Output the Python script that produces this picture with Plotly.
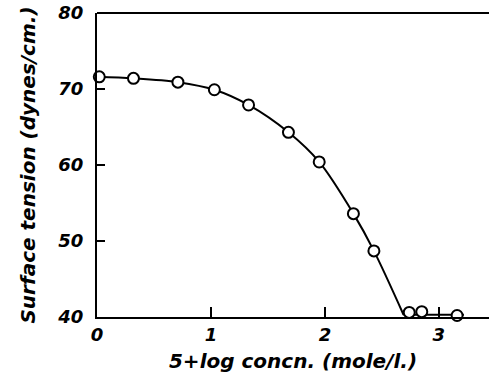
import plotly.graph_objects as go

log_conc = [0.02, 0.32, 0.71, 1.03, 1.33, 1.68, 1.95, 2.25, 2.43, 2.74, 2.85, 3.16]
tension = [71.6, 71.4, 70.9, 69.9, 67.9, 64.3, 60.4, 53.6, 48.7, 40.6, 40.7, 40.2]

curve_x = [0.0, 0.32, 0.71, 1.03, 1.33, 1.68, 1.95, 2.25, 2.43, 2.69]
curve_y = [71.6, 71.4, 70.9, 69.9, 67.9, 64.3, 60.4, 53.6, 48.7, 40.3]
flat_x = [2.69, 3.22]
flat_y = [40.3, 40.3]

x_ticks = [0, 1, 2, 3]
x_tick_text = ["0", "1", "2", "3"]
y_ticks = [40, 50, 60, 70, 80]

font_family = "DejaVu Sans"

fig = go.Figure()
fig.add_trace(go.Scatter(x=curve_x, y=curve_y, mode="lines",
                         line=dict(color="black", width=2, shape="spline", smoothing=0.9),
                         hoverinfo="skip", showlegend=False, cliponaxis=False))
fig.add_trace(go.Scatter(x=flat_x, y=flat_y, mode="lines",
                         line=dict(color="black", width=2),
                         hoverinfo="skip", showlegend=False, cliponaxis=False))
fig.add_trace(go.Scatter(x=log_conc, y=tension, mode="markers",
                         marker=dict(symbol="circle", size=11, color="white",
                                     line=dict(color="black", width=2)),
                         showlegend=False, cliponaxis=False))

title_font = dict(size=20, family=font_family, style="italic", weight="bold")
tick_font = dict(size=18, family=font_family, style="italic", weight="bold")

fig.update_layout(
    width=489, height=377,
    margin=dict(l=97, r=0, t=13, b=60),
    paper_bgcolor="white", plot_bgcolor="white",
    font=dict(family=font_family, color="black", size=17, style="italic", weight="bold"),
    xaxis=dict(range=[0, 3.44], tickvals=x_ticks, ticktext=x_tick_text,
               ticks="inside", ticklen=10, tickwidth=2, tickcolor="black",
               showline=True, linecolor="black", linewidth=2, showgrid=False, zeroline=False,
               tickfont=tick_font,
               title=dict(text="5+log concn. (mole/l.)", standoff=10, font=title_font)),
    yaxis=dict(range=[40, 80], tickvals=y_ticks,
               ticks="inside", ticklen=8, tickwidth=2, tickcolor="black",
               showline=True, linecolor="black", linewidth=2, showgrid=False, zeroline=False,
               ticklabelstandoff=8,
               tickfont=tick_font,
               title=dict(text="Surface tension (dynes/cm.)", standoff=16, font=title_font)),
    shapes=[dict(type="line", xref="paper", yref="paper", x0=0, x1=1, y0=1, y1=1,
                 line=dict(color="black", width=2))],
)

fig.write_html("out.html")
